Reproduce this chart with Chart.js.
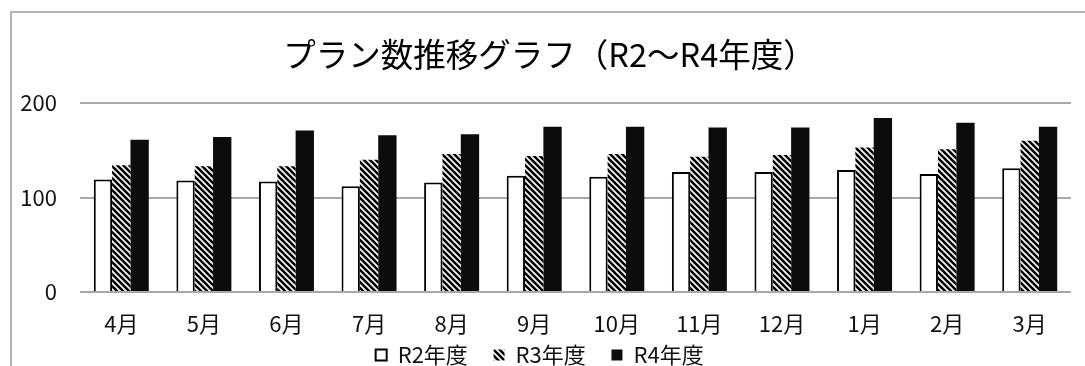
<!DOCTYPE html>
<html><head><meta charset="utf-8">
<script src="https://cdn.jsdelivr.net/npm/chart.js@4.4.1/dist/chart.umd.min.js"></script>
<style>
html,body{margin:0;padding:0;background:#fff;overflow:hidden;width:1085px;height:366px;}
#wrap{position:relative;width:1085px;height:381px;}
#frame{position:absolute;left:10px;top:11px;width:1200px;height:500px;border-top:2px solid #b4b4b4;border-left:2px solid #b4b4b4;pointer-events:none;}
canvas{position:absolute;left:0;top:0;}
</style></head><body>
<div id="wrap"><canvas id="c" width="1085" height="381"></canvas><div id="frame"></div></div>
<script>
const categories = ['4月','5月','6月','7月','8月','9月','10月','11月','12月','1月','2月','3月'];
const seriesNames = ['R2年度','R3年度','R4年度'];
const r2Values = [119,118,117,112,116,123,122,127,127,129,125,131];
const r3Values = [134,133,133,140,146,144,146,143,145,153,151,160];
const r4Values = [161,164,171,166,167,175,175,174,174,184,179,175];
const yTickValues = [0,100,200];
const chartTitle = 'プラン数推移グラフ（R2～R4年度）';

function hatch(){
  const s = 6;
  const p = document.createElement('canvas');
  p.width = s; p.height = s;
  const g = p.getContext('2d');
  g.fillStyle = '#fff'; g.fillRect(0,0,s,s);
  g.strokeStyle = '#000'; g.lineWidth = 2.6;
  g.beginPath();
  for (const k of [-s,0,s]) { g.moveTo(k-1,-1); g.lineTo(k+s+1,s+1); }
  g.stroke();
  return document.getElementById('c').getContext('2d').createPattern(p,'repeat');
}
const FONT = "'Noto Sans CJK JP', 'Noto Sans', sans-serif";
Chart.defaults.font.family = FONT;
Chart.defaults.color = '#111';

new Chart(document.getElementById('c'), {
  type: 'bar',
  data: {
    labels: categories,
    datasets: [
      {label: seriesNames[0], data: r2Values, backgroundColor: '#fff', borderColor: '#000', borderWidth: 2},
      {label: seriesNames[1], data: r3Values, backgroundColor: hatch(), borderColor: '#000', borderWidth: 0},
      {label: seriesNames[2], data: r4Values, backgroundColor: '#0c0c0c', borderColor: '#0c0c0c', borderWidth: 0}
    ]
  },
  options: {
    responsive: false,
    animation: false,
    devicePixelRatio: 1,
    layout: {padding: {left: 14, right: 0, top: 0, bottom: 5}},
    datasets: {bar: {categoryPercentage: 0.666, barPercentage: 1.0}},
    plugins: {
      tooltip: {enabled: false},
      title: {display: true, text: chartTitle, color: '#000',
        font: {size: 32.5, weight: 'normal', family: FONT}, padding: {top: 35, bottom: 29}},
      legend: {position: 'bottom',
        labels: {boxWidth: 11, boxHeight: 11, padding: 6, color: '#111',
          font: {size: 22, family: FONT},
          generateLabels(chart){
            const items = Chart.defaults.plugins.legend.labels.generateLabels(chart);
            items.forEach(it => { it.text = it.text + '    '; });
            return items;
          }}}
    },
    scales: {
      x: {grid: {display: false, drawTicks: false}, border: {display: false},
        afterFit(s){ s.height = 46; },
        ticks: {padding: 18, font: {size: 22}, color: '#111', maxRotation: 0}},
      y: {min: 0, max: 200,
        afterBuildTicks(s){ s.ticks = yTickValues.map(v => ({value: v})); },
        afterFit(s){ s.width = 66; },
        grid: {color: '#a8a8a8', lineWidth: 2, drawTicks: false},
        border: {display: false},
        ticks: {padding: 23, font: {size: 22}, color: '#111'}},
      y2: {position: 'right', display: true, grid: {display: false}, border: {display: false},
        ticks: {display: false}, afterFit(s){ s.width = 14; }}
    }
  }
});
</script>
</body></html>
